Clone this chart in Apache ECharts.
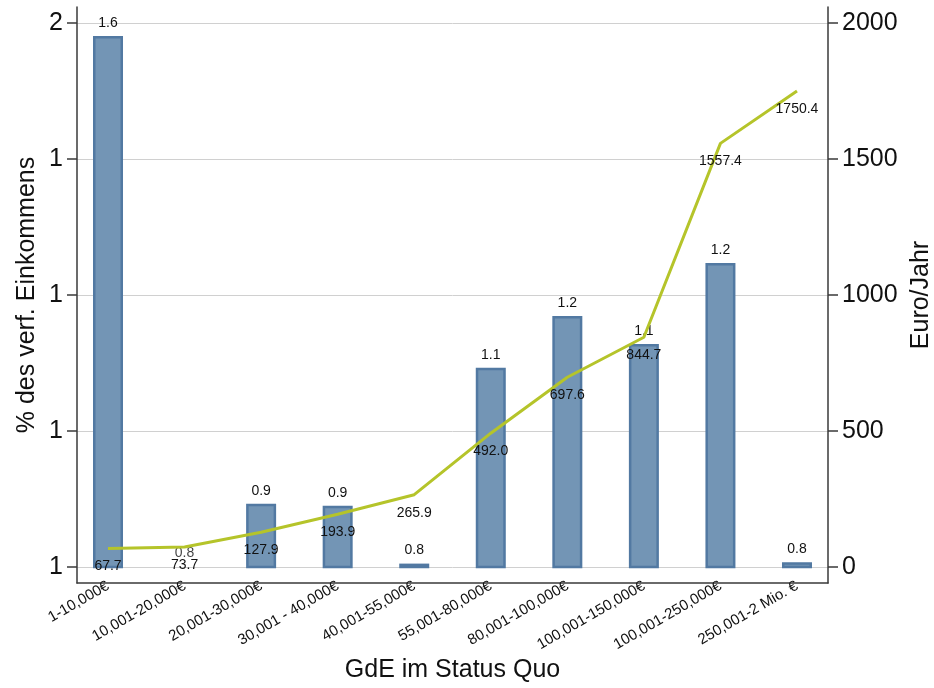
<!DOCTYPE html>
<html>
<head>
<meta charset="utf-8">
<script src="https://cdn.jsdelivr.net/npm/echarts@6/dist/echarts.min.js"></script>
<style>html,body{margin:0;padding:0;background:#fff}#c{width:934px;height:688px}</style>
</head>
<body>
<div id="c"></div>
<script>
const categories = ['1-10,000€','10,001-20,000€','20,001-30,000€','30,001 - 40,000€','40,001-55,000€','55,001-80,000€','80,001-100,000€','100,001-150,000€','100,001-250,000€','250,001-2 Mio. €'];
const shareValues = [1.581, 0.8, 0.893, 0.890, 0.805, 1.093, 1.169, 1.128, 1.247, 0.807];
const euroValues = [67.7, 73.7, 127.9, 193.9, 265.9, 492.0, 697.6, 844.7, 1557.4, 1750.4];

const FONT = 'Liberation Sans, Arial, sans-serif';
const idx = categories.map((_, i) => i);
const chart = echarts.init(document.getElementById('c'), null, {renderer: 'canvas'});
const axisColor = '#3a3a3a';
const xMin = -0.405, xMax = 9.405;
const shareMin = 0.8;

chart.setOption({
  animation: false,
  textStyle: {fontFamily: FONT},
  grid: [
    {left: 77, right: 106, top: 23, bottom: 121, outerBoundsMode: 'none', containLabel: false},
    {left: 77, right: 106, top: 7, bottom: 105, outerBoundsMode: 'none', containLabel: false}
  ],
  xAxis: [
    {type: 'value', gridIndex: 0, min: xMin, max: xMax, show: false},
    {type: 'value', gridIndex: 1, min: xMin, max: xMax,
     axisLine: {show: true, onZero: false, lineStyle: {color: axisColor, width: 1.5}},
     axisTick: {show: false}, splitLine: {show: false},
     axisLabel: {customValues: idx, rotate: 30, fontSize: 15, color: '#111', margin: 2, fontFamily: FONT,
                 formatter: v => categories[Math.round(v)]},
     name: 'GdE im Status Quo', nameLocation: 'middle', nameGap: 75, nameMoveOverlap: false,
     nameTextStyle: {fontSize: 25, color: '#111', fontFamily: FONT}}
  ],
  yAxis: [
    {type: 'value', gridIndex: 0, position: 'left', min: shareMin, max: 1.6, interval: 0.2,
     axisLine: {show: false, onZero: false},
     axisTick: {show: true, length: 10, lineStyle: {color: axisColor, width: 1.5}},
     axisLabel: {fontSize: 25, color: '#111', margin: 14, fontFamily: FONT, formatter: v => String(Math.round(v))},
     splitLine: {show: true, lineStyle: {color: '#d0d0d0', width: 1}},
     name: '% des verf. Einkommens', nameLocation: 'middle', nameGap: 37, nameMoveOverlap: false,
     nameTextStyle: {fontSize: 25, color: '#111', fontFamily: FONT}},
    {type: 'value', gridIndex: 0, position: 'right', min: 0, max: 2000, interval: 500,
     axisLine: {show: false, onZero: false},
     axisTick: {show: true, length: 10, lineStyle: {color: axisColor, width: 1.5}},
     axisLabel: {fontSize: 25, color: '#111', margin: 14, fontFamily: FONT, formatter: v => String(v)},
     splitLine: {show: false},
     name: 'Euro/Jahr', nameLocation: 'middle', nameGap: 81, nameMoveOverlap: false,
     nameTextStyle: {fontSize: 25, color: '#111', fontFamily: FONT}},
    {type: 'value', gridIndex: 1, position: 'left', min: 0, max: 1,
     axisLine: {show: true, onZero: false, lineStyle: {color: axisColor, width: 1.5}},
     axisTick: {show: false}, axisLabel: {show: false}, splitLine: {show: false}},
    {type: 'value', gridIndex: 1, position: 'right', min: 0, max: 1,
     axisLine: {show: true, onZero: false, lineStyle: {color: axisColor, width: 1.5}},
     axisTick: {show: false}, axisLabel: {show: false}, splitLine: {show: false}}
  ],
  series: [
    {type: 'bar', xAxisIndex: 0, yAxisIndex: 0, barWidth: 30,
     data: idx.map(i => [i, shareValues[i]]),
     itemStyle: {color: '#7395B5', borderColor: '#5279A2', borderWidth: 2.5},
     label: {show: true, position: 'top', distance: 6, fontSize: 14, color: '#111', fontFamily: FONT,
             formatter: p => p.value[1].toFixed(1)}},
    {type: 'scatter', xAxisIndex: 0, yAxisIndex: 0, symbolSize: 0, silent: true,
     data: idx.filter(i => shareValues[i] <= shareMin).map(i => [i, shareValues[i]]),
     itemStyle: {color: 'rgba(0,0,0,0)'},
     label: {show: true, position: 'top', distance: 7, fontSize: 14, color: '#111', fontFamily: FONT,
             formatter: p => p.value[1].toFixed(1)}},
    {type: 'line', xAxisIndex: 0, yAxisIndex: 1, symbol: 'circle', symbolSize: 0, showSymbol: true,
     data: idx.map(i => [i, euroValues[i]]),
     itemStyle: {color: 'rgba(0,0,0,0)'},
     lineStyle: {color: '#B5C42A', width: 3},
     label: {show: true, position: 'bottom', distance: 11, fontSize: 14, color: '#111', fontFamily: FONT,
             formatter: p => p.value[1].toFixed(1)},
     z: 3}
  ]
});
</script>
</body>
</html>
